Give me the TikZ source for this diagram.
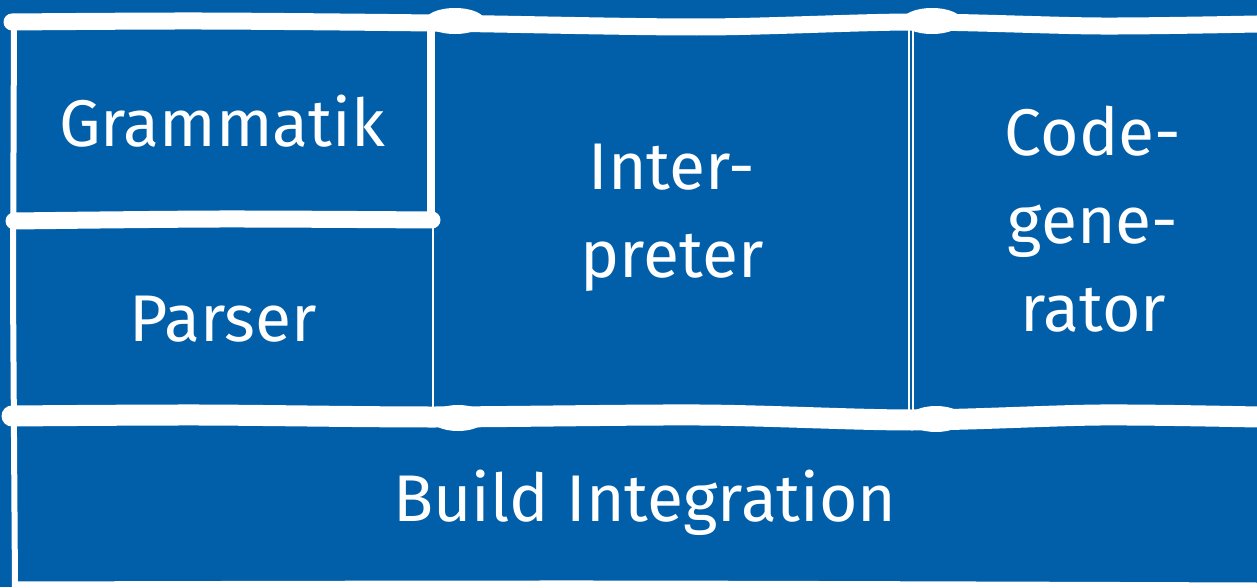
\documentclass[tikz,border=0pt]{standalone}
\usepackage{fontspec}
\setmainfont{Fira Sans}
\definecolor{bgblue}{RGB}{1,94,168}
\begin{document}
\begin{tikzpicture}[x=1pt, y=1pt,
  block/.style={shape=rectangle, inner sep=0pt, text=white, align=center,
    font=\fontsize{66}{88}\selectfont},
  stroke/.style={draw=white, line cap=round, line join=round}]
\useasboundingbox (0,0) rectangle (1257,587);
\fill[bgblue] (0,0) rectangle (1257,587);
\node[block, minimum width=416, minimum height=190] (gram) at (222,466) {Grammatik};
\node[block, minimum width=418, minimum height=192] (pars) at (223,268) {Parser};
\node[block, minimum width=476, minimum height=388] (inter) at (672,369) {Inter-\\preter};
\node[block, minimum width=344, minimum height=388] (code) at (1093,368) {Code-\\gene-\\rator};
\node[block, minimum width=1243, minimum height=160] (build) at (645,84) {Build Integration};
% verticals
\draw[stroke, line width=6] (14,569) -- (13,300) -- (15,0);
\draw[stroke, line width=8] (431,567) -- (431,367);
\draw[stroke, line width=2.5] (433,367) -- (433,170);
\draw[stroke, line width=1.5] (909,563) -- (909,170);
\draw[stroke, line width=1.5] (913,563) -- (913,170);
% horizontals
\draw[stroke, line width=17] plot[smooth] coordinates {(12,565) (200,566) (432,564) (700,560) (912,565) (1100,561) (1257,563)};
\draw[stroke, line width=17] plot[smooth] coordinates {(14,366) (220,368) (432,367)};
\draw[stroke, line width=21] plot[smooth] coordinates {(12,171) (200,172) (432,170) (700,172) (912,167) (1100,172) (1257,170)};
\draw[stroke, line width=7] plot[smooth] coordinates {(16,2) (600,3) (1257,1)};
% brush blobs at the joints
\fill[white] (455,566) ellipse[x radius=30, y radius=13];
\fill[white] (932,566) ellipse[x radius=30, y radius=13];
\fill[white] (458,169) ellipse[x radius=28, y radius=13];
\fill[white] (936,168) ellipse[x radius=28, y radius=13];
\end{tikzpicture}
\end{document}
